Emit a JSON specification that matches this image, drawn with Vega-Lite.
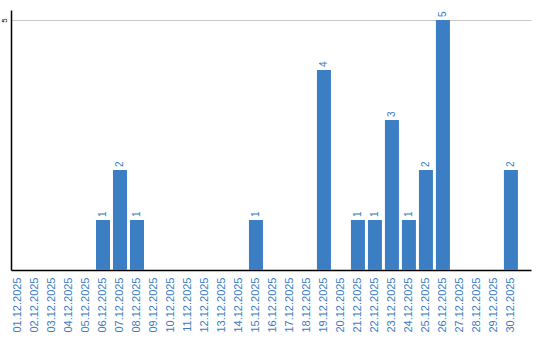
{
  "$schema": "https://vega.github.io/schema/vega-lite/v6.json",
  "width": 520,
  "height": 260,
  "autosize": {"type": "none"},
  "padding": {"left": 11, "top": 10, "right": 9, "bottom": 70},
  "background": "white",
  "config": {"view": {"stroke": null}},
  "data": {"values": [
    {"d": "01.12.2025", "v": 0}, {"d": "02.12.2025", "v": 0}, {"d": "03.12.2025", "v": 0},
    {"d": "04.12.2025", "v": 0}, {"d": "05.12.2025", "v": 0}, {"d": "06.12.2025", "v": 1},
    {"d": "07.12.2025", "v": 2}, {"d": "08.12.2025", "v": 1}, {"d": "09.12.2025", "v": 0},
    {"d": "10.12.2025", "v": 0}, {"d": "11.12.2025", "v": 0}, {"d": "12.12.2025", "v": 0},
    {"d": "13.12.2025", "v": 0}, {"d": "14.12.2025", "v": 0}, {"d": "15.12.2025", "v": 1},
    {"d": "16.12.2025", "v": 0}, {"d": "17.12.2025", "v": 0}, {"d": "18.12.2025", "v": 0},
    {"d": "19.12.2025", "v": 4}, {"d": "20.12.2025", "v": 0}, {"d": "21.12.2025", "v": 1},
    {"d": "22.12.2025", "v": 1}, {"d": "23.12.2025", "v": 3}, {"d": "24.12.2025", "v": 1},
    {"d": "25.12.2025", "v": 2}, {"d": "26.12.2025", "v": 5}, {"d": "27.12.2025", "v": 0},
    {"d": "28.12.2025", "v": 0}, {"d": "29.12.2025", "v": 0}, {"d": "30.12.2025", "v": 2}
  ]},
  "encoding": {
    "x": {
      "field": "d", "type": "nominal", "sort": null,
      "scale": {"paddingInner": 0.1765, "paddingOuter": 0.385, "align": 0},
      "axis": {
        "title": null, "labelAngle": -90, "labelAlign": "right", "labelBaseline": "middle",
        "labelColor": "#3a7dc4", "labelFont": "Liberation Sans", "labelFontSize": 11,
        "labelPadding": 7, "ticks": false, "domainColor": "#000000", "domainWidth": 1.5,
        "labelOverlap": false
      }
    },
    "y": {
      "field": "v", "type": "quantitative",
      "scale": {"domain": [0, 5.2], "nice": false},
      "axis": {
        "title": null, "values": [5], "labelAngle": -90, "labelAlign": "center",
        "labelBaseline": "bottom", "labelFont": "Liberation Sans", "labelFontSize": 8,
        "labelColor": "#000000", "labelPadding": 3, "ticks": false,
        "domainColor": "#000000", "domainWidth": 1.5,
        "grid": true, "gridColor": "#c8c8c8", "gridWidth": 1
      }
    }
  },
  "layer": [
    {"mark": {"type": "bar", "color": "#3b7ec4"}},
    {
      "transform": [{"filter": "datum.v > 0"}],
      "mark": {"type": "text", "angle": 270, "align": "left", "baseline": "middle", "dx": 3,
               "font": "Liberation Sans", "fontSize": 10, "color": "#3a7dc4"},
      "encoding": {"text": {"field": "v", "type": "quantitative"}}
    }
  ]
}
